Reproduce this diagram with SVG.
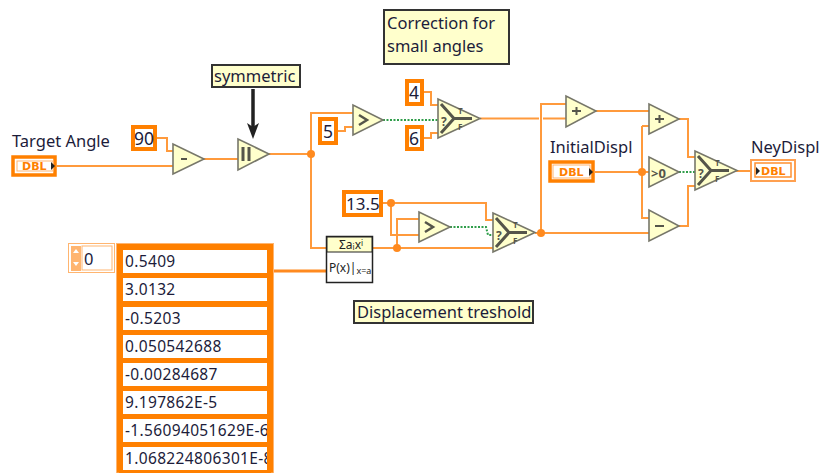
<svg xmlns="http://www.w3.org/2000/svg" width="822" height="473" viewBox="0 0 822 473">
<style>
text{font-family:"Noto Sans","Liberation Sans",sans-serif;font-size:16.500px;fill:#1c1c3a}
.k{font-size:17.500px}
.v{font-size:15.500px;letter-spacing:.35px}
.w{fill:none;stroke:#ff9a3c;stroke-width:2}
.g{fill:none;stroke:#2f9e4a;stroke-width:2;stroke-dasharray:2 1.5}
.j{fill:#ff8a1f;stroke:none}
.tri{fill:#ffffcc;stroke:#77776a;stroke-width:1.600}
.lab{fill:#ffffcc;stroke:#333;stroke-width:2}
.c{fill:#fff;stroke:#ff8000;stroke-width:4}
.sel{fill:none;stroke:#55554a;stroke-width:3}
.dbl{font-family:"DejaVu Sans",sans-serif;font-size:11px;font-weight:bold;fill:#ff8000}
.cell{fill:#fff}
</style>
<defs>
<clipPath id="cc"><rect x="123" y="250" width="144" height="223"/></clipPath>
<g id="selIcon">
<path class="tri" d="M0 0V39L42 19.500Z"/>
<path class="sel" d="M3 5L16 19.500L3 34M16 19.500H34"/>
<text x="20" y="15" style="font-size:8px;fill:#55554a;font-weight:bold">T</text>
<text x="20" y="31" style="font-size:8px;fill:#55554a;font-weight:bold">F</text>
<text x="3" y="27" style="font-size:12px;fill:#55554a;font-weight:bold">?</text>
</g>
</defs>

<g id="connectors">
<path class="w" d="M157 138H167V151H173M57 166H173M204 159H238M269 154H311"/>
<path class="w" d="M311 154V113H353M337 131H345V127H353M423 92H431V105H438M423 138H431V133H438M480 118.500H539M543 118.500H566"/>
<path class="w" d="M311 154V248H326M373 248H493M382 203H486V220H493M391 203V235H419M397 248V219H419M535 233H649"/>
<path d="M273 271H326" fill="none" stroke="#ff8a1f" stroke-width="3"/>
<path class="w" d="M541 233V104H566M596 111H649M642 126H649M642 126V218H649M595 172H649M679 119H688V157H695M679 226H688V186H695M736 171H750"/>
<path class="g" d="M383 120H438M450 227H486L488 235H493M679 172H695"/>
<circle class="j" cx="311" cy="154" r="4"/>
<circle class="j" cx="391" cy="203" r="4"/>
<circle class="j" cx="397" cy="248" r="4"/>
<circle class="j" cx="541" cy="233" r="4"/>
<circle class="j" cx="642" cy="172" r="4"/>
<path d="M253 89V128" fill="none" stroke="#222" stroke-width="3.500"/>
<path d="M247 123L253 127L259 123L253 139Z" fill="#222"/>
</g>

<g id="target-angle">
<text x="12" y="147">Target Angle</text>
<rect x="13" y="157" width="42" height="18" fill="#fff" stroke="#ff8000" stroke-width="3.500"/>
<rect x="17" y="161" width="36" height="10" fill="#fff" stroke="#ffb570" stroke-width="1"/>
<text class="dbl" x="22" y="170">DBL</text>
<path d="M51 162L55 166L51 170Z" fill="#222"/>
</g>
<g id="const-90"><rect class="c" x="133" y="127" width="22" height="22"/><text class="k" x="134" y="145">90</text></g>
<g id="subtract"><path class="tri" d="M173 144V174L204 159Z"/><path d="M181 159H187" stroke="#55554a" stroke-width="2"/></g>
<g id="symmetric"><rect class="lab" x="212" y="65" width="88" height="22"/><text x="214" y="82">symmetric</text></g>
<g id="pause"><path class="tri" d="M238 139V170L269 154Z"/><path d="M243 147V161M249 147V161" stroke="#55554a" stroke-width="3"/></g>

<g id="note-correction"><rect class="lab" x="384" y="10" width="125" height="54"/><text x="387" y="29">Correction for</text><text x="387" y="52">small angles</text></g>
<g id="const-4"><rect class="c" x="407" y="81" width="15" height="23"/><text class="k" x="409" y="99">4</text></g>
<g id="const-5"><rect class="c" x="320" y="119" width="16" height="24"/><text class="k" x="323" y="138">5</text></g>
<g id="const-6"><rect class="c" x="407" y="127" width="15" height="22"/><text class="k" x="409" y="145">6</text></g>
<g id="greater-1"><path class="tri" d="M353 105V135L383 120Z"/><path d="M359 115L367 120L359 125" fill="none" stroke="#55554a" stroke-width="2.500"/></g>
<g id="select-1" transform="translate(438 99)"><use href="#selIcon"/></g>

<g id="const-13-5"><rect class="c" x="344" y="192" width="37" height="23"/><text class="k" x="346" y="210" style="font-size:17px">13.5</text></g>
<g id="greater-2"><path class="tri" d="M419 212V242L450 227Z"/><path d="M425 222L433 227L425 232" fill="none" stroke="#55554a" stroke-width="2.500"/></g>
<g id="select-2" transform="translate(493 213)"><use href="#selIcon"/></g>
<g id="poly">
<rect x="326.500" y="236.500" width="46" height="46" fill="#fff" stroke="#222" stroke-width="1.500"/>
<rect x="327" y="237" width="45" height="15" fill="#ffffcc" stroke="#222" stroke-width="1"/>
<text x="339" y="249" style="font-size:12px;fill:#222">Σa<tspan dy="1" style="font-size:8px">i</tspan><tspan dy="-1">x</tspan><tspan dy="-3" style="font-size:8px">i</tspan></text>
<text x="329" y="272" style="font-size:12px;fill:#222">P(x)|<tspan dy="2" style="font-size:9px">x=a</tspan></text>
</g>
<g id="note-threshold"><rect class="lab" x="354" y="301" width="179" height="22"/><text x="357" y="318">Displacement treshold</text></g>

<g id="add-1"><path class="tri" d="M566 96V127L596 111Z"/><path d="M572 111H581M576.500 107V115" stroke="#55554a" stroke-width="2"/></g>
<g id="add-2"><path class="tri" d="M649 104V134L679 119Z"/><path d="M655 119H664M659.500 115V123" stroke="#55554a" stroke-width="2"/></g>
<g id="gt-zero"><path class="tri" d="M649 157V187L679 172Z"/><text x="651" y="178" style="font-size:13px;font-weight:bold;fill:#55554a">&gt;0</text></g>
<g id="subtract-2"><path class="tri" d="M649 210V241L679 226Z"/><path d="M655 226H664" stroke="#55554a" stroke-width="2"/></g>
<g id="select-3" transform="translate(695 151)"><use href="#selIcon"/></g>
<g id="initial-displ">
<text x="550" y="153">InitialDispl</text>
<rect x="550" y="162" width="43" height="19" fill="#fff" stroke="#ff8000" stroke-width="3.500"/>
<rect x="553" y="165" width="37" height="13" fill="#fff" stroke="#ffb570" stroke-width="1"/>
<text class="dbl" x="559" y="176">DBL</text>
<path d="M589 168L593 172L589 176Z" fill="#222"/>
</g>
<g id="ney-displ">
<text x="751" y="153">NeyDispl</text>
<rect x="751" y="160" width="44" height="21" fill="#fff" stroke="#ffa050" stroke-width="2"/>
<rect x="755" y="163" width="36" height="14" fill="#fff" stroke="#ff9030" stroke-width="1.500"/>
<text class="dbl" x="761" y="175">DBL</text>
<path d="M756 167L760 171L756 175Z" fill="#222"/>
</g>

<g id="array">
<rect x="68.500" y="243.500" width="46" height="29" fill="#fff" stroke="#ffb570" stroke-width="1"/>
<rect x="71" y="246" width="10" height="25" fill="#ffb570"/>
<path d="M73 253L76 249L79 253ZM73 262L76 266L79 262Z" fill="#fff"/>
<rect x="82" y="246" width="30" height="24" fill="#fff" stroke="#ffb570" stroke-width="1"/>
<text x="84" y="265">0</text>
<rect x="116.500" y="243.500" width="157" height="229.500" fill="#ff8000" stroke="#ffb570" stroke-width="1"/>
<rect x="119" y="246" width="152" height="227" fill="#ff8000"/>
<rect class="cell" x="123" y="250" width="144" height="23"/>
<rect class="cell" x="123" y="278" width="144" height="23"/>
<rect class="cell" x="123" y="307" width="144" height="23"/>
<rect class="cell" x="123" y="335" width="144" height="23"/>
<rect class="cell" x="123" y="363" width="144" height="23"/>
<rect class="cell" x="123" y="391" width="144" height="23"/>
<rect class="cell" x="123" y="419" width="144" height="23"/>
<rect class="cell" x="123" y="447" width="144" height="23"/>
<g clip-path="url(#cc)">
<text class="v" x="125" y="267">0.5409</text>
<text class="v" x="125" y="295">3.0132</text>
<text class="v" x="125" y="324">-0.5203</text>
<text class="v" x="125" y="352">0.050542688</text>
<text class="v" x="125" y="380">-0.00284687</text>
<text class="v" x="125" y="408">9.197862E-5</text>
<text class="v" x="125" y="436">-1.56094051629E-6</text>
<text class="v" x="125" y="464">1.068224806301E-8</text>
</g>
</g>
</svg>
